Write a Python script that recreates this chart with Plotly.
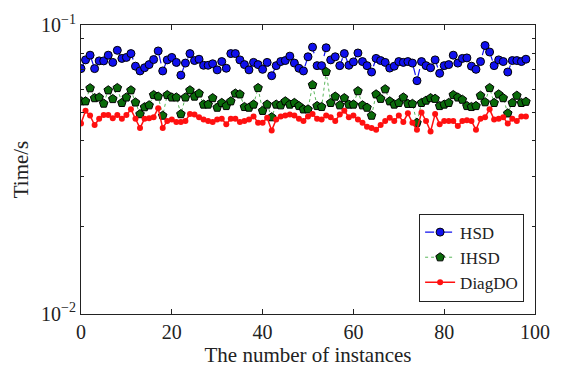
import plotly.graph_objects as go

instances = list(range(0, 99))

hsd = [0.0707, 0.0758, 0.0787, 0.0707, 0.0752, 0.0752, 0.0787, 0.0743, 0.0818, 0.0767,
       0.0773, 0.0797, 0.0721, 0.0694, 0.0712, 0.0730, 0.0760, 0.0814, 0.0694, 0.0758,
       0.0773, 0.0743, 0.0671, 0.0739, 0.0797, 0.0754, 0.0762, 0.0726, 0.0726, 0.0735,
       0.0700, 0.0748, 0.0709, 0.0797, 0.0797, 0.0758, 0.0730, 0.0700, 0.0743, 0.0730,
       0.0703, 0.0743, 0.0668, 0.0724, 0.0748, 0.0754, 0.0781, 0.0739, 0.0709, 0.0694,
       0.0777, 0.0839, 0.0724, 0.0724, 0.0835, 0.0758, 0.0777, 0.0724, 0.0797, 0.0726,
       0.0746, 0.0801, 0.0748, 0.0724, 0.0688, 0.0767, 0.0754, 0.0743, 0.0710, 0.0721,
       0.0748, 0.0743, 0.0748, 0.0739, 0.0642, 0.0748, 0.0724, 0.0712, 0.0758, 0.0681,
       0.0724, 0.0730, 0.0787, 0.0739, 0.0767, 0.0770, 0.0721, 0.0703, 0.0748, 0.0850,
       0.0807, 0.0724, 0.0758, 0.0748, 0.0688, 0.0754, 0.0754, 0.0748, 0.0762]

ihsd = [0.0545, 0.0545, 0.0605, 0.0559, 0.0562, 0.0535, 0.0595, 0.0555, 0.0606, 0.0538,
        0.0562, 0.0595, 0.0540, 0.0492, 0.0520, 0.0528, 0.0573, 0.0566, 0.0486, 0.0573,
        0.0562, 0.0562, 0.0492, 0.0562, 0.0595, 0.0566, 0.0580, 0.0531, 0.0531, 0.0559,
        0.0518, 0.0538, 0.0525, 0.0545, 0.0580, 0.0576, 0.0521, 0.0518, 0.0531, 0.0606,
        0.0505, 0.0531, 0.0480, 0.0531, 0.0528, 0.0545, 0.0531, 0.0538, 0.0525, 0.0511,
        0.0511, 0.0621, 0.0525, 0.0521, 0.0689, 0.0538, 0.0566, 0.0528, 0.0559, 0.0531,
        0.0531, 0.0591, 0.0528, 0.0518, 0.0486, 0.0576, 0.0556, 0.0600, 0.0545, 0.0531,
        0.0538, 0.0562, 0.0534, 0.0534, 0.0459, 0.0538, 0.0548, 0.0559, 0.0556, 0.0525,
        0.0531, 0.0538, 0.0573, 0.0562, 0.0552, 0.0525, 0.0521, 0.0525, 0.0570, 0.0541,
        0.0606, 0.0538, 0.0576, 0.0559, 0.0495, 0.0538, 0.0570, 0.0538, 0.0543]

diagdo = [0.0456, 0.0505, 0.0486, 0.0451, 0.0474, 0.0488, 0.0488, 0.0476, 0.0488, 0.0474,
          0.0488, 0.0511, 0.0474, 0.0440, 0.0474, 0.0476, 0.0480, 0.0515, 0.0440, 0.0466,
          0.0471, 0.0462, 0.0462, 0.0466, 0.0492, 0.0490, 0.0480, 0.0471, 0.0466, 0.0462,
          0.0471, 0.0474, 0.0454, 0.0474, 0.0474, 0.0462, 0.0466, 0.0471, 0.0483, 0.0459,
          0.0459, 0.0478, 0.0432, 0.0471, 0.0483, 0.0486, 0.0490, 0.0486, 0.0474, 0.0466,
          0.0483, 0.0492, 0.0474, 0.0471, 0.0486, 0.0480, 0.0466, 0.0490, 0.0505, 0.0480,
          0.0486, 0.0471, 0.0459, 0.0445, 0.0440, 0.0434, 0.0451, 0.0466, 0.0478, 0.0466,
          0.0486, 0.0462, 0.0495, 0.0459, 0.0434, 0.0498, 0.0466, 0.0428, 0.0492, 0.0454,
          0.0466, 0.0466, 0.0466, 0.0447, 0.0466, 0.0468, 0.0466, 0.0434, 0.0474, 0.0480,
          0.0511, 0.0471, 0.0474, 0.0480, 0.0456, 0.0474, 0.0466, 0.0483, 0.0483]

x_ticks = [0, 20, 40, 60, 80, 100]
y_ticks = [0.01, 0.1]
y_ticktext = ["10<sup>\u22122</sup>", "10<sup>\u22121</sup>"]
y_minor = [0.02, 0.03, 0.04, 0.05, 0.06, 0.07, 0.08, 0.09]

FONT = "Liberation Serif"
TXT = "#222222"

fig = go.Figure()
fig.add_trace(go.Scatter(
    x=instances, y=hsd, name="HSD", mode="lines+markers",
    line=dict(color="#1010ee", width=1.2, dash="dash"),
    marker=dict(symbol="circle", size=8, color="#1010ee",
                line=dict(color="black", width=1))))
fig.add_trace(go.Scatter(
    x=instances, y=ihsd, name="IHSD", mode="lines+markers",
    line=dict(color="#5cb85c", width=1, dash="dot"),
    marker=dict(symbol="pentagon", size=9, color="#0a6a0a",
                line=dict(color="black", width=1))))
fig.add_trace(go.Scatter(
    x=instances, y=diagdo, name="DiagDO", mode="lines+markers",
    line=dict(color="#ff1010", width=1.5),
    marker=dict(symbol="circle", size=6, color="#ff1010",
                line=dict(width=0))))

fig.update_layout(
    width=563, height=376,
    margin=dict(l=81, r=28, t=12, b=62),
    paper_bgcolor="white", plot_bgcolor="white",
    font=dict(family=FONT, size=20, color=TXT),
    showlegend=True,
    legend=dict(
        x=0.976, y=0.043, xanchor="right", yanchor="bottom",
        bgcolor="white", bordercolor=TXT, borderwidth=1,
        font=dict(family=FONT, size=17, color=TXT),
        tracegroupgap=0, itemwidth=30),
    xaxis=dict(
        range=[0, 100], tickvals=x_ticks,
        ticks="inside", ticklen=5, tickcolor=TXT,
        showline=True, linecolor=TXT, linewidth=1, mirror="allticks",
        showgrid=False, zeroline=False, ticklabeloverflow="allow",
        title=dict(text="The number of instances", standoff=2,
                   font=dict(family=FONT, size=21, color=TXT)),
        tickfont=dict(family=FONT, size=20, color=TXT)),
    yaxis=dict(
        type="log", range=[-2.0005, -0.9995], tickvals=y_ticks, ticktext=y_ticktext,
        ticks="inside", ticklen=5, tickcolor=TXT,
        minor=dict(tickvals=y_minor, ticks="inside", ticklen=3,
                   tickcolor=TXT, showgrid=False),
        showline=True, linecolor=TXT, linewidth=1, mirror="allticks",
        showgrid=False, zeroline=False, ticklabeloverflow="allow",
        title=dict(text="Time/s", standoff=6, font=dict(family=FONT, size=21, color=TXT)),
        tickfont=dict(family=FONT, size=20, color=TXT)),
)

fig.write_html("out.html")
